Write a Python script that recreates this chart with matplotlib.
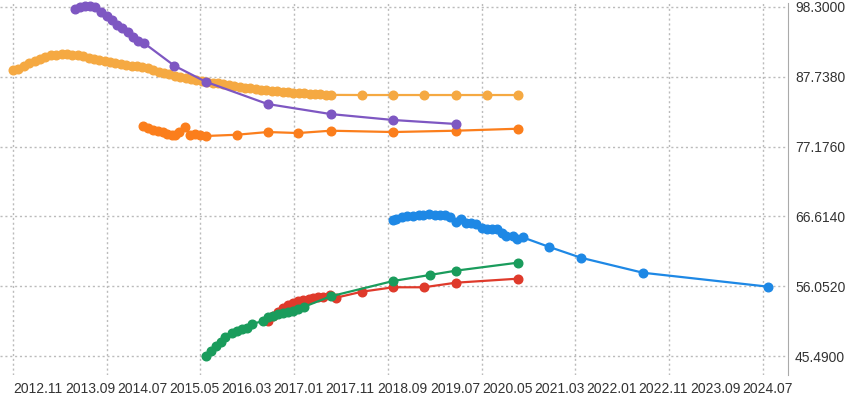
import numpy as np
import matplotlib
matplotlib.use("Agg")
import matplotlib.pyplot as plt

# x values: months elapsed since 2012.11
tick_labels = ["2012.11", "2013.09", "2014.07", "2015.05", "2016.03", "2017.01",
               "2017.11", "2018.09", "2019.07", "2020.05", "2021.03", "2022.01",
               "2022.11", "2023.09", "2024.07"]
y_ticks = [45.49, 56.052, 66.614, 77.176, 87.738, 98.3]

light_orange_x = list(range(0, 60)) + [64.7, 70.5, 76.3, 82.1, 87.9, 93.6]
light_orange_y = [88.76, 88.85, 89.3, 89.8, 90.1, 90.5, 90.8, 91.0, 91.1, 91.2,
                  91.15, 91.1, 91.0, 90.9, 90.6, 90.5, 90.3, 90.1, 90.0, 89.8,
                  89.7, 89.5, 89.35, 89.3, 89.25, 89.0, 88.8, 88.5, 88.3, 88.1,
                  87.9, 87.7, 87.5, 87.35, 87.2, 87.1, 86.95, 86.85, 86.8, 86.6,
                  86.5, 86.35, 86.25, 86.1, 86.0, 85.9, 85.8, 85.7, 85.65, 85.6,
                  85.5, 85.45, 85.35, 85.3, 85.25, 85.2, 85.15, 85.1, 85.05, 85.0,
                  84.98, 84.98, 84.98, 84.98, 84.98, 84.98]

dark_orange_x = [24.05, 25.1, 26.0, 26.9, 27.8, 28.6, 29.4, 30.0, 30.8, 31.8,
                 32.8, 33.7, 34.7, 35.8, 41.5, 47.2, 52.9, 58.9, 70.5, 82.1, 93.6]
dark_orange_y = [80.29, 79.99, 79.73, 79.53, 79.38, 79.08, 78.93, 78.97, 79.38, 80.09,
                 78.93, 79.08, 78.93, 78.78, 78.97, 79.38, 79.23, 79.58, 79.38, 79.58, 79.88]

purple_x = [11.5, 12.4, 13.35, 14.3, 15.2, 16.4, 17.4, 18.3, 19.3, 20.2, 21.4,
            22.2, 23.2, 24.2, 29.9, 35.7, 47.2, 58.9, 70.5, 82.1]
purple_y = [97.95, 98.25, 98.49, 98.49, 98.25, 97.59, 96.98, 96.33, 95.57, 95.16,
            94.47, 93.80, 93.15, 92.90, 89.42, 87.0, 83.62, 82.1, 81.2, 80.6]

blue_x = [70.4, 71.1, 72.1, 73.0, 74.1, 75.2, 76.1, 77.2, 78.3, 79.2, 80.1, 81.0,
          82.1, 83.1, 84.0, 84.9, 85.8, 86.9, 87.8, 88.8, 89.7, 90.6, 91.5, 92.7,
          93.5, 94.5, 99.3, 105.3, 116.8, 140.0]
blue_y = [66.07, 66.22, 66.48, 66.63, 66.67, 66.87, 66.78, 66.93, 66.78, 66.78,
          66.78, 66.57, 65.77, 66.17, 65.57, 65.57, 65.42, 64.91, 64.66, 64.71,
          64.75, 64.15, 63.70, 63.65, 63.24, 63.45, 62.03, 60.36, 58.09, 55.98]

red_x = [47.3, 48.2, 49.1, 50.1, 51.0, 52.0, 52.9, 53.8, 54.8, 55.7, 56.6, 57.5,
         58.8, 59.9, 64.7, 70.5, 76.2, 82.1, 93.6]
red_y = [50.79, 51.54, 52.15, 52.71, 53.21, 53.56, 53.81, 53.96, 54.11, 54.22,
         54.37, 54.46, 54.72, 54.31, 55.22, 55.89, 55.89, 56.58, 57.19]

green_x = [35.7, 36.7, 37.6, 38.5, 39.4, 40.6, 41.5, 42.4, 43.3, 44.4, 46.3, 47.2,
           48.2, 49.1, 50.0, 50.9, 51.9, 52.9, 54.0, 58.9, 70.5, 77.3, 82.1, 93.6]
green_y = [45.49, 46.29, 47.05, 47.65, 48.41, 48.92, 49.32, 49.53, 49.68, 50.38,
           50.74, 51.44, 51.59, 51.80, 52.04, 52.19, 52.34, 52.56, 52.95, 54.52,
           56.84, 57.75, 58.40, 59.61]

series = [
    (light_orange_x, light_orange_y, "#f5a942"),
    (dark_orange_x, dark_orange_y, "#fb7e1c"),
    (purple_x, purple_y, "#7e57c2"),
    (blue_x, blue_y, "#1e88e5"),
    (red_x, red_y, "#df3a2b"),
    (green_x, green_y, "#1a9c5c"),
]

plt.rcParams["font.family"] = ["Liberation Sans", "DejaVu Sans"]
fig = plt.figure(figsize=(8.59, 3.99), dpi=100)
W, H = 859, 399
ax = fig.add_axes([0 / W, (H - 375) / H, 788 / W, (375 - 3) / H])

for xs, ys, c in series:
    ax.plot(xs, ys, color=c, lw=1.6, marker="o", ms=6.2, mec=c, mfc=c,
            zorder=3, clip_on=False)

ax.set_ylim(42.615, 98.905)
ax.set_xlim(-2.41, 143.7)
ax.set_yticks(y_ticks)
ax.set_yticklabels([f"{v:.4f}" for v in y_ticks], fontsize=10, color="#333333")
ax.yaxis.tick_right()
ax.tick_params(axis="y", length=0, pad=5)
ax.set_xticks(np.arange(9) * 17.38)
ax.tick_params(axis="x", length=0, labelbottom=False)
ax.grid(True, linestyle=(0, (1.5, 2)), color="#bbbbbb", lw=1)
ax.set_axisbelow(True)
for s in ["top", "left", "bottom"]:
    ax.spines[s].set_visible(False)
ax.spines["right"].set_color("#aaaaaa")

ax2 = ax.twiny()
ax2.set_xlim(-13 / 52.1, (788 - 13) / 52.1)
ax2.set_xticks(range(len(tick_labels)))
ax2.set_xticklabels(tick_labels, fontsize=10, color="#333333", ha="left")
ax2.xaxis.set_ticks_position("bottom")
ax2.xaxis.set_label_position("bottom")
ax2.tick_params(axis="x", length=0, pad=5)
for s in ax2.spines.values():
    s.set_visible(False)

fig.savefig("out.png", dpi=100)
